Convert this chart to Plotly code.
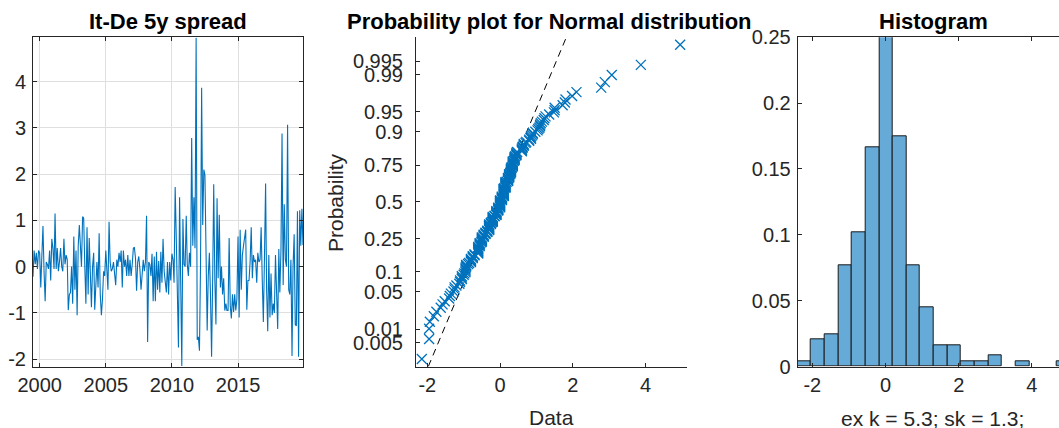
import numpy as np
import pandas as pd
import plotly.graph_objects as go
from statistics import NormalDist

W, H = 1059, 428

# monthly It-De 5y spread, Jul 1999 - Dec 2019
spread = [
    # 1999 (Jul-Dec)
    -0.22, 0.35, 0.05, 0.3, -0.05, 0.35,
    # 2000
    0.3, -0.45, 0.22, 0.88, -0.1, -0.75, 0.1, 0.05, -0.05, 0.35, -0.3, 0.6,
    # 2001
    0.4, -0.05, 1.15, -0.05, 0.4, -0.1, 0.1, 0.4, 0.0, -0.1, 0.6, 0.05,
    # 2002
    0.25, 0.15, -0.94, -0.6, -0.56, 0.0, -0.8, 0.65, -0.5, 0.35, -1.05, 0.45,
    # 2003
    0.9, 0.22, 0.0, 1.08, 1.05, 0.0, -0.8, 0.85, -0.6, 0.62, -0.3, -0.88,
    # 2004
    0.0, 0.3, -0.93, -0.3, 0.1, -0.45, 0.72, -0.6, -1.05, -0.7, -0.1, -0.2,
    # 2005
    0.35, -0.1, -0.5, 0.97, 0.1, -0.1, -0.05, 0.1, -0.2, -0.4, 0.15, 0.0,
    # 2006
    0.3, 0.1, 0.35, -0.45, 0.35, 0.0, 0.15, -0.2, 0.25, -0.2, 0.15, -0.2,
    # 2007
    0.05, 0.4, 0.42, 0.18, -0.52, 0.1, 0.22, -0.05, -0.5, -0.15, 0.15, -0.1,
    # 2008
    0.1, 1.1, -1.63, 0.1, 0.05, -0.2, 0.28, -0.75, 0.22, -0.75, 0.32, -0.5,
    # 2009
    0.12, -0.56, 0.32, -0.35, 0.6, -0.1, -0.3, -0.56, 0.1, -0.6, 0.1, -0.3,
    # 2010
    0.28, 0.15, -0.35, 1.72, 0.65, -0.3, -1.75, 1.5, -0.4, -2.15, 1.03, 0.05,
    # 2011
    0.0, 1.1, 0.05, -0.2, 0.3, 0.0, 2.78, 0.45, 1.5, 0.4, 4.95, -1.58,
    # 2012
    -1.52, -1.82, 0.0, 3.87, 0.9, 2.1, 1.98, 0.22, -1.38, -0.2, 0.3, -0.6,
    # 2013
    -1.95, -0.2, 1.78, -0.3, -1.25, 1.48, -0.25, 1.12, -0.45, 0.0, -0.6, -0.25,
    # 2014
    -0.95, -0.8, -0.95, -0.95, 0.62, -0.85, -1.12, -0.6, -0.98, -0.6, -0.95, -0.7,
    # 2015
    0.65, -1.1, 0.8, -0.5, 0.25, 0.45, 0.6, 0.8, -0.93, -0.3, -0.3, 0.1,
    # 2016
    0.85, -0.25, 0.25, 0.1, 0.15, -0.35, 0.3, 0.1, 0.15, 0.85, -0.3, -1.2,
    # 2017
    0.22, 1.8, -0.5, -1.4, 0.25, -1.1, -0.15, -1.05, -0.8, -1.0, 0.25, -0.56,
    # 2018
    -1.35, 0.38, -0.56, 0.35, 2.88, -0.4, 1.35, 0.15, 0.0, 3.07, -0.5, -0.6,
    # 2019
    0.15, -1.93, 0.0, 0.7, -1.25, -1.28, 1.2, -1.95, 1.22, 0.45, 1.25, 0.47,
]
dates = pd.date_range("1999-07-01", periods=len(spread), freq="MS")

year_ticks = ["2000-01-01", "2005-01-01", "2010-01-01", "2015-01-01"]
year_labels = ["2000", "2005", "2010", "2015"]
spread_ticks = [-2, -1, 0, 1, 2, 3, 4]
spread_labels = ["-2", "-1", "0", "1", "2", "3", "4"]
prob_ticks = [0.005, 0.01, 0.05, 0.1, 0.25, 0.5, 0.75, 0.9, 0.95, 0.99, 0.995]
prob_labels = ["0.005", "0.01", "0.05", "0.1", "0.25", "0.5", "0.75", "0.9", "0.95", "0.99", "0.995"]
data_ticks = [-2, 0, 2, 4]
data_labels = ["-2", "0", "2", "4"]
hist_ticks = [0, 0.05, 0.1, 0.15, 0.2, 0.25]
hist_labels = ["0", "0.05", "0.1", "0.15", "0.2", "0.25"]
stats_text = "ex k = 5.3; sk = 1.3;"

BLUE = "#0072BD"
AX = "#262626"
FONT = "Liberation Sans, Arial, sans-serif"


def px(x):
    return x / W


def py(y):
    return 1 - y / H


# normal probability plot: sorted data vs normal quantiles
nd = NormalDist()
srt = np.sort(spread)
n = len(srt)
zq = [nd.inv_cdf((i + 0.5) / n) for i in range(n)]
# reference line through the quartiles (like matlab probplot)
q1, q3 = np.percentile(srt, [25, 75])
z1, z3 = nd.inv_cdf(0.25), nd.inv_cdf(0.75)
slope = (q3 - q1) / (z3 - z1)
zlim = [-3.01, 3.01]
ref_x = [q1 + slope * (z - z1) for z in zlim]

fig = go.Figure()

fig.add_trace(go.Scatter(
    x=dates, y=spread, mode="lines",
    line=dict(color=BLUE, width=1.1),
    xaxis="x", yaxis="y"
))

fig.add_trace(go.Scatter(
    x=ref_x, y=zlim, mode="lines",
    line=dict(color="black", width=1, dash="7px,5px"),
    xaxis="x2", yaxis="y2"
))
fig.add_trace(go.Scatter(
    x=srt, y=zq, mode="markers",
    marker=dict(symbol="x-thin", size=10, line=dict(color=BLUE, width=1.3)),
    xaxis="x2", yaxis="y2"
))

fig.add_trace(go.Histogram(
    x=spread,
    xbins=dict(start=-2.411, end=5.05, size=0.373),
    histnorm="probability",
    marker=dict(color="#66AAD7", line=dict(color="#1a1a1a", width=1)),
    xaxis="x3", yaxis="y3"
))

common = dict(
    showline=True, linecolor=AX, linewidth=1,
    ticks="inside", ticklen=4, tickcolor=AX,
    tickfont=dict(size=20, color=AX, family=FONT),
    zeroline=False, showgrid=False, automargin=False,
)
ydom = [py(366.5), py(37.3)]

fig.update_layout(
    template="none",
    width=W, height=H,
    margin=dict(l=0, r=0, t=0, b=0, pad=0, autoexpand=False),
    paper_bgcolor="white", plot_bgcolor="white",
    showlegend=False,
    bargap=0,
    font=dict(family=FONT, color=AX),
    xaxis=dict(
        common, domain=[px(33), px(303)], anchor="y", type="date",
        range=[dates[0], dates[-1]],
        tickvals=year_ticks, ticktext=year_labels,
        mirror="ticks", showgrid=True, gridcolor="#DFDFDF", gridwidth=1,
    ),
    yaxis=dict(
        common, domain=ydom, anchor="x",
        range=[-2.16, 4.96], tickvals=spread_ticks, ticktext=spread_labels,
        mirror="ticks", showgrid=True, gridcolor="#DFDFDF", gridwidth=1,
        ticklabelstandoff=2,
    ),
    xaxis2=dict(
        common, domain=[px(416), px(686.7)], anchor="y2",
        range=[-2.31, 5.13], tickvals=data_ticks, ticktext=data_labels,
    ),
    yaxis2=dict(
        common, domain=ydom, anchor="x2",
        range=zlim,
        tickvals=[nd.inv_cdf(p) for p in prob_ticks], ticktext=prob_labels,
        ticklabelstandoff=8,
    ),
    xaxis3=dict(
        common, domain=[px(797.7), 1.0], anchor="y3",
        range=[-2.40, 4.74], tickvals=data_ticks, ticktext=data_labels,
        mirror="ticks",
    ),
    yaxis3=dict(
        common, domain=ydom, anchor="x3",
        range=[0, 0.25], tickvals=hist_ticks, ticktext=hist_labels,
        ticklabelstandoff=2,
    ),
)

title_font = dict(size=22, color="black", family=FONT)
label_font = dict(size=21, color=AX, family=FONT)
notes = [
    ("<b>It-De 5y spread</b>", 167.5, 22, title_font, 0),
    ("<b>Probability plot for Normal distribution</b>", 549, 22, title_font, 0),
    ("<b>Histogram</b>", 933, 22, title_font, 0),
    ("Data", 551, 417, label_font, 0),
    ("Probability", 335.5, 202.5, label_font, -90),
    (stats_text, 932, 418, label_font, 0),
]
for text, x, y, f, ang in notes:
    fig.add_annotation(
        text=text, x=px(x), y=py(y), xref="paper", yref="paper",
        xanchor="center", yanchor="middle", showarrow=False,
        font=f, textangle=ang,
    )

# page without the default body margin, so the figure fills the window
fig.write_html(
    "out.html",
    config={"displayModeBar": False},
    post_script="document.body.style.margin='0';document.body.style.overflow='hidden';",
)
